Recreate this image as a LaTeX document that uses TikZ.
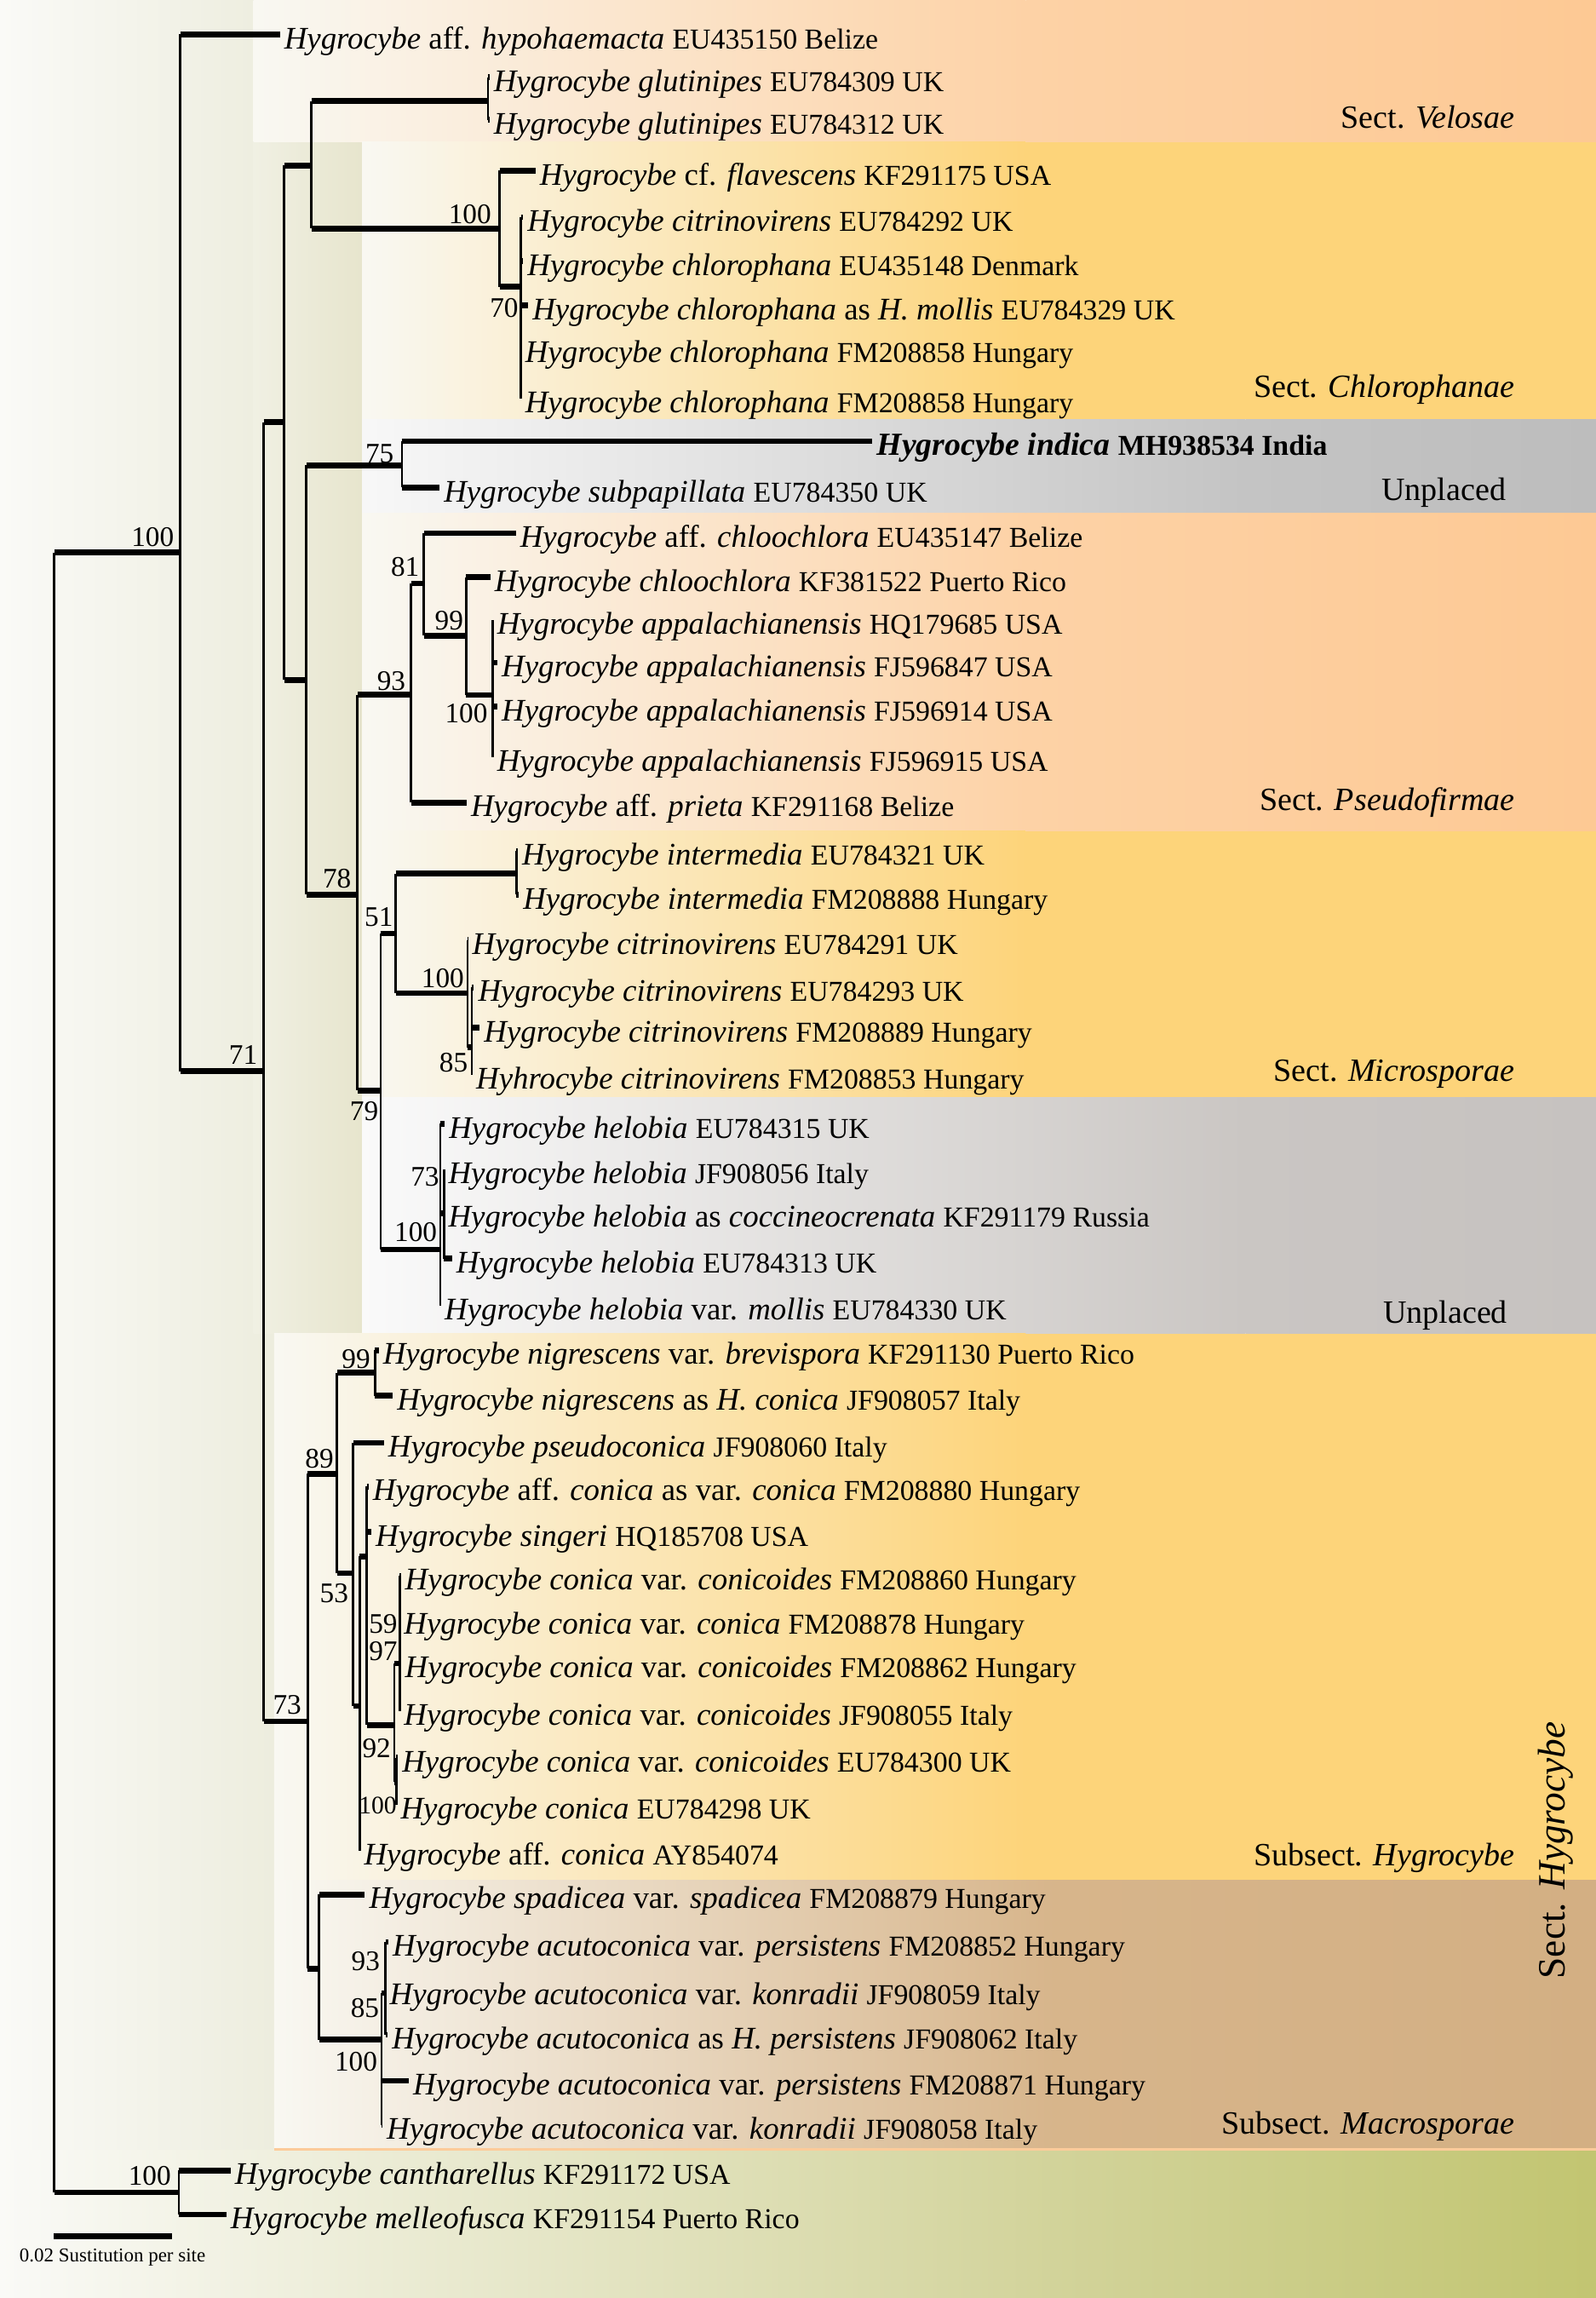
\documentclass[tikz,border=0pt]{standalone}
\usepackage{fontspec}
\setmainfont{Liberation Serif}
\usepackage{tikz}
\usetikzlibrary{calc}
\definecolor{paleL}{HTML}{FAFAF7}
\definecolor{paleR}{HTML}{EDEDDE}
\definecolor{colL}{HTML}{F0F0E3}
\definecolor{colR}{HTML}{E7E5CD}
\definecolor{bandW}{HTML}{F9F8F2}
\definecolor{veloMid}{HTML}{FDD2A6}
\definecolor{veloCol}{HTML}{FDC994}
\definecolor{chloCol}{HTML}{FDD47A}
\definecolor{grayA}{HTML}{C4C4C4}
\definecolor{grayAR}{HTML}{BDBDBD}
\definecolor{grayB}{HTML}{CAC6C3}
\definecolor{grayBR}{HTML}{C6C2C0}
\definecolor{macMid}{HTML}{D7B58B}
\definecolor{macCol}{HTML}{D3AF83}
\definecolor{ogMid}{HTML}{D2D39A}
\definecolor{ogCol}{HTML}{C2C571}
\definecolor{peachLine}{HTML}{FCCB9A}
\newcommand{\acc}[1]{{\fontsize{11.2}{13}\selectfont #1}}

\begin{document}
\begin{tikzpicture}[x=0.02cm, y=-0.02cm,
    hbr/.style={line width=2.2pt},
    vbr/.style={line width=0.9pt},
    taxon/.style={anchor=base west, inner sep=0pt, xshift=1.5pt, yshift=-5.5pt,
      font=\fontsize{12.2}{14}\selectfont},
    boot/.style={anchor=east, inner sep=0pt, font=\fontsize{11}{13}\selectfont},
    sect/.style={anchor=base east, inner sep=0pt, font=\fontsize{12.6}{15}\selectfont}
  ]
    \useasboundingbox (0,0) rectangle (1089,1568);
    % Background bands
    \shade[left color=paleL, right color=paleR] (0,0) rectangle (187,1467);
    \shade[left color=colL, right color=colR] (173,97) rectangle (247,910);
    \shade[left color=bandW, right color=veloMid] (173,0) rectangle (700,97);
    \shade[left color=veloMid, right color=veloCol] (700,0) rectangle (1089,97);
    \shade[left color=bandW, right color=chloCol] (247,97) rectangle (700,286);
    \fill[chloCol] (700,97) rectangle (1089,286);
    \shade[left color=white!94!gray, right color=grayA] (247,286) rectangle (850,350);
    \shade[left color=grayA, right color=grayAR] (850,286) rectangle (1089,350);
    \shade[left color=bandW, right color=veloMid] (247,350) rectangle (700,567);
    \shade[left color=veloMid, right color=veloCol] (700,350) rectangle (1089,567);
    \shade[left color=bandW, right color=chloCol] (247,567) rectangle (700,749);
    \fill[chloCol] (700,567) rectangle (1089,749);
    \shade[left color=white!96!gray, right color=grayB] (247,749) rectangle (850,910);
    \shade[left color=grayB, right color=grayBR] (850,749) rectangle (1089,910);
    \shade[left color=bandW, right color=chloCol] (187,910) rectangle (700,1283);
    \fill[chloCol] (700,910) rectangle (1089,1283);
    \shade[left color=bandW, right color=macMid] (187,1283) rectangle (720,1467);
    \shade[left color=macMid, right color=macCol] (720,1283) rectangle (1089,1467);
    \shade[left color=paleL, right color=ogMid] (0,1467) rectangle (720,1568);
    \shade[left color=ogMid, right color=ogCol] (720,1467) rectangle (1089,1568);
    \draw[peachLine, line width=0.8pt] (187,1466.5) -- (1089,1466.5);

    % Internal nodes
    \coordinate (root) at (37,937);
    \coordinate (cA) at (123,377);
    \coordinate (cB) at (180,731);
    \coordinate (cC) at (194,288);
    \coordinate (cE) at (212.6,113);
    \coordinate (cG) at (333,69);
    \coordinate (cH) at (341,156);
    \coordinate (cH2) at (355.5,195.6);
    \coordinate (cF) at (209,464);
    \coordinate (cI) at (274.3,317.5);
    \coordinate (cJ) at (244,610.5);
    \coordinate (cK) at (280.6,474);
    \coordinate (cV) at (289.3,398);
    \coordinate (cW) at (318,433.7);
    \coordinate (cX) at (336.3,474.3);
    \coordinate (cL) at (259.7,744);
    \coordinate (cM) at (270,637);
    \coordinate (cIM) at (352.3,596);
    \coordinate (cQ) at (319,677.7);
    \coordinate (cQ2) at (322,714.6);
    \coordinate (cN) at (300.5,852.5);
    \coordinate (cN2) at (303,828);
    \coordinate (cD) at (210,1174.6);
    \coordinate (cO) at (230,1005.7);
    \coordinate (cNG) at (256,936.6);
    \coordinate (cR) at (241,1073.5);
    \coordinate (cS) at (245.5,1164);
    \coordinate (cS2) at (250.4,1062);
    \coordinate (cT) at (269,1177);
    \coordinate (cT1) at (272.7,1135);
    \coordinate (cT2) at (270.5,1216);
    \coordinate (cP) at (217.7,1343.3);
    \coordinate (cU) at (260.3,1391.7);
    \coordinate (cU1) at (263,1360);
    \coordinate (cOG) at (122,1496);

    % Tips
    \coordinate (L1) at (191,23.5);
    \coordinate (L2) at (334,52.6);
    \coordinate (L3) at (334,81.7);
    \coordinate (L4) at (365.4,116.5);
    \coordinate (L5) at (357,148.1);
    \coordinate (L6) at (357,178.2);
    \coordinate (L7) at (360.4,208.3);
    \coordinate (L8) at (355.5,237.4);
    \coordinate (L9) at (355.5,271.7);
    \coordinate (L10) at (595.4,301);
    \coordinate (L11) at (300,332.7);
    \coordinate (L12) at (352,363.8);
    \coordinate (L13) at (334.6,393.9);
    \coordinate (L14) at (336.3,423);
    \coordinate (L15) at (339.4,452.1);
    \coordinate (L16) at (339.4,482.2);
    \coordinate (L17) at (336.3,516.5);
    \coordinate (L18) at (318.4,547.6);
    \coordinate (L19) at (353.4,580.6);
    \coordinate (L20) at (354,610.5);
    \coordinate (L21) at (319.4,641.5);
    \coordinate (L22) at (323.4,673.7);
    \coordinate (L23) at (327.4,701.3);
    \coordinate (L24) at (322,733.5);
    \coordinate (L25) at (303.5,766.8);
    \coordinate (L26) at (303,797.9);
    \coordinate (L27) at (303,827.7);
    \coordinate (L28) at (308.4,858.8);
    \coordinate (L29) at (300.5,891);
    \coordinate (L30) at (258.4,921.3);
    \coordinate (L31) at (268,952.3);
    \coordinate (L32) at (262,984.5);
    \coordinate (L33) at (251.5,1014.3);
    \coordinate (L34) at (253.4,1045.4);
    \coordinate (L35) at (273.5,1075.3);
    \coordinate (L36) at (272.7,1105.2);
    \coordinate (L37) at (273.5,1135.1);
    \coordinate (L38) at (272.7,1167.3);
    \coordinate (L39) at (271.5,1199.4);
    \coordinate (L40) at (270.5,1231.6);
    \coordinate (L41) at (245.5,1262.6);
    \coordinate (L42) at (249,1292.7);
    \coordinate (L43) at (265,1325);
    \coordinate (L44) at (263,1358.3);
    \coordinate (L45) at (264.5,1388.5);
    \coordinate (L46) at (279,1419.7);
    \coordinate (L47) at (261,1449.8);
    \coordinate (L48) at (157.4,1481);
    \coordinate (L49) at (154.4,1511.1);

    % Vertical branches
    \draw[vbr] (root |- cA) -- (root |- cOG);
    \draw[vbr] (cA |- L1) -- (cA |- cB);
    \draw[vbr] (cB |- cC) -- (cB |- cD);
    \draw[vbr] (cC |- cE) -- (cC |- cF);
    \draw[vbr] (cE |- cG) -- (cE |- cH);
    \draw[vbr] (cG |- L2) -- (cG |- L3);
    \draw[vbr] (cH |- L4) -- (cH |- cH2);
    \draw[vbr] (cH2 |- L5) -- (cH2 |- L9);
    \draw[vbr] (cF |- cI) -- (cF |- cJ);
    \draw[vbr] (cI |- L10) -- (cI |- L11);
    \draw[vbr] (cJ |- cK) -- (cJ |- cL);
    \draw[vbr] (cK |- cV) -- (cK |- L18);
    \draw[vbr] (cV |- L12) -- (cV |- cW);
    \draw[vbr] (cW |- L13) -- (cW |- cX);
    \draw[vbr] (cX |- L14) -- (cX |- L17);
    \draw[vbr] (cL |- cM) -- (cL |- cN);
    \draw[vbr] (cM |- cIM) -- (cM |- cQ);
    \draw[vbr] (cIM |- L19) -- (cIM |- L20);
    \draw[vbr] (cQ |- L21) -- (cQ |- cQ2);
    \draw[vbr] (cQ2 |- L22) -- (cQ2 |- L24);
    \draw[vbr] (cN |- L25) -- (cN |- L29);
    \draw[vbr] (cN2 |- L26) -- (cN2 |- L28);
    \draw[vbr] (cD |- cO) -- (cD |- cP);
    \draw[vbr] (cO |- cNG) -- (cO |- cR);
    \draw[vbr] (cNG |- L30) -- (cNG |- L31);
    \draw[vbr] (cR |- L32) -- (cR |- cS);
    \draw[vbr] (cS |- cS2) -- (cS |- L41);
    \draw[vbr] (cS2 |- L33) -- (cS2 |- cT);
    \draw[vbr] (cT |- cT1) -- (cT |- cT2);
    \draw[vbr] (cT1 |- L35) -- (cT1 |- L38);
    \draw[vbr] (cT2 |- L39) -- (cT2 |- L40);
    \draw[vbr] (cP |- L42) -- (cP |- cU);
    \draw[vbr] (cU |- cU1) -- (cU |- L47);
    \draw[vbr] (cU1 |- L43) -- (cU1 |- L45);
    \draw[vbr] (cOG |- L48) -- (cOG |- L49);

    % Horizontal branches
    \draw[hbr] (root |- cA) -- (cA);
    \draw[hbr] (root |- cOG) -- (cOG);
    \draw[hbr] (cA |- L1) -- (L1);
    \draw[hbr] (cA |- cB) -- (cB);
    \draw[hbr] (cB |- cC) -- (cC);
    \draw[hbr] (cB |- cD) -- (cD);
    \draw[hbr] (cC |- cE) -- (cE);
    \draw[hbr] (cC |- cF) -- (cF);
    \draw[hbr] (cE |- cG) -- (cG);
    \draw[hbr] (cE |- cH) -- (cH);
    \draw[hbr] (cG |- L2) -- (L2);
    \draw[hbr] (cG |- L3) -- (L3);
    \draw[hbr] (cH |- L4) -- (L4);
    \draw[hbr] (cH |- cH2) -- (cH2);
    \draw[hbr] (cH2 |- L5) -- (L5);
    \draw[hbr] (cH2 |- L6) -- (L6);
    \draw[hbr] (cH2 |- L7) -- (L7);
    \draw[hbr] (cF |- cI) -- (cI);
    \draw[hbr] (cF |- cJ) -- (cJ);
    \draw[hbr] (cI |- L10) -- (L10);
    \draw[hbr] (cI |- L11) -- (L11);
    \draw[hbr] (cJ |- cK) -- (cK);
    \draw[hbr] (cJ |- cL) -- (cL);
    \draw[hbr] (cK |- cV) -- (cV);
    \draw[hbr] (cK |- L18) -- (L18);
    \draw[hbr] (cV |- L12) -- (L12);
    \draw[hbr] (cV |- cW) -- (cW);
    \draw[hbr] (cW |- L13) -- (L13);
    \draw[hbr] (cW |- cX) -- (cX);
    \draw[hbr] (cX |- L15) -- (L15);
    \draw[hbr] (cX |- L16) -- (L16);
    \draw[hbr] (cL |- cM) -- (cM);
    \draw[hbr] (cL |- cN) -- (cN);
    \draw[hbr] (cM |- cIM) -- (cIM);
    \draw[hbr] (cM |- cQ) -- (cQ);
    \draw[hbr] (cIM |- L19) -- (L19);
    \draw[hbr] (cIM |- L20) -- (L20);
    \draw[hbr] (cQ |- L21) -- (L21);
    \draw[hbr] (cQ |- cQ2) -- (cQ2);
    \draw[hbr] (cQ2 |- L22) -- (L22);
    \draw[hbr] (cQ2 |- L23) -- (L23);
    \draw[hbr] (cN |- L25) -- (L25);
    \draw[hbr] (cN |- cN2) -- (cN2);
    \draw[hbr] (cN2 |- L28) -- (L28);
    \draw[hbr] (cD |- cO) -- (cO);
    \draw[hbr] (cD |- cP) -- (cP);
    \draw[hbr] (cO |- cNG) -- (cNG);
    \draw[hbr] (cO |- cR) -- (cR);
    \draw[hbr] (cNG |- L30) -- (L30);
    \draw[hbr] (cNG |- L31) -- (L31);
    \draw[hbr] (cR |- L32) -- (L32);
    \draw[hbr] (cR |- cS) -- (cS);
    \draw[hbr] (cS |- cS2) -- (cS2);
    \draw[hbr] (cS2 |- L33) -- (L33);
    \draw[hbr] (cS2 |- L34) -- (L34);
    \draw[hbr] (cS2 |- cT) -- (cT);
    \draw[hbr] (cT |- cT1) -- (cT1);
    \draw[hbr] (cT |- cT2) -- (cT2);
    \draw[hbr] (cT1 |- L35) -- (L35);
    \draw[hbr] (cT1 |- L37) -- (L37);
    \draw[hbr] (cT2 |- L39) -- (L39);
    \draw[hbr] (cP |- L42) -- (L42);
    \draw[hbr] (cP |- cU) -- (cU);
    \draw[hbr] (cU |- cU1) -- (cU1);
    \draw[hbr] (cU |- L46) -- (L46);
    \draw[hbr] (cU |- L47) -- (L47);
    \draw[hbr] (cU1 |- L43) -- (L43);
    \draw[hbr] (cU1 |- L45) -- (L45);
    \draw[hbr] (cOG |- L48) -- (L48);
    \draw[hbr] (cOG |- L49) -- (L49);

    % Taxa
    \node[taxon] (t1) at (L1) {\textit{Hygrocybe} aff. \textit{hypohaemacta} \acc{EU435150 Belize}};
    \node[taxon] (t2) at (L2) {\textit{Hygrocybe glutinipes} \acc{EU784309 UK}};
    \node[taxon] (t3) at (L3) {\textit{Hygrocybe glutinipes} \acc{EU784312 UK}};
    \node[taxon] (t4) at (L4) {\textit{Hygrocybe} cf. \textit{flavescens} \acc{KF291175 USA}};
    \node[taxon] (t5) at (L5) {\textit{Hygrocybe citrinovirens} \acc{EU784292 UK}};
    \node[taxon] (t6) at (L6) {\textit{Hygrocybe chlorophana} \acc{EU435148 Denmark}};
    \node[taxon] (t7) at (L7) {\textit{Hygrocybe chlorophana} as \textit{H. mollis} \acc{EU784329 UK}};
    \node[taxon] (t8) at (L8) {\textit{Hygrocybe chlorophana} \acc{FM208858 Hungary}};
    \node[taxon] (t9) at (L9) {\textit{Hygrocybe chlorophana} \acc{FM208858 Hungary}};
    \node[taxon, font=\fontsize{12.5}{14}\selectfont] (t10) at (L10) {\textbf{\textit{Hygrocybe indica}} \acc{\textbf{MH938534 India}}};
    \node[taxon] (t11) at (L11) {\textit{Hygrocybe subpapillata} \acc{EU784350 UK}};
    \node[taxon] (t12) at (L12) {\textit{Hygrocybe} aff. \textit{chloochlora} \acc{EU435147 Belize}};
    \node[taxon] (t13) at (L13) {\textit{Hygrocybe chloochlora} \acc{KF381522 Puerto Rico}};
    \node[taxon] (t14) at (L14) {\textit{Hygrocybe appalachianensis} \acc{HQ179685 USA}};
    \node[taxon] (t15) at (L15) {\textit{Hygrocybe appalachianensis} \acc{FJ596847 USA}};
    \node[taxon] (t16) at (L16) {\textit{Hygrocybe appalachianensis} \acc{FJ596914 USA}};
    \node[taxon] (t17) at (L17) {\textit{Hygrocybe appalachianensis} \acc{FJ596915 USA}};
    \node[taxon] (t18) at (L18) {\textit{Hygrocybe} aff. \textit{prieta} \acc{KF291168 Belize}};
    \node[taxon] (t19) at (L19) {\textit{Hygrocybe intermedia} \acc{EU784321 UK}};
    \node[taxon] (t20) at (L20) {\textit{Hygrocybe intermedia} \acc{FM208888 Hungary}};
    \node[taxon] (t21) at (L21) {\textit{Hygrocybe citrinovirens} \acc{EU784291 UK}};
    \node[taxon] (t22) at (L22) {\textit{Hygrocybe citrinovirens} \acc{EU784293 UK}};
    \node[taxon] (t23) at (L23) {\textit{Hygrocybe citrinovirens} \acc{FM208889 Hungary}};
    \node[taxon] (t24) at (L24) {\textit{Hyhrocybe citrinovirens} \acc{FM208853 Hungary}};
    \node[taxon] (t25) at (L25) {\textit{Hygrocybe helobia} \acc{EU784315 UK}};
    \node[taxon] (t26) at (L26) {\textit{Hygrocybe helobia} \acc{JF908056 Italy}};
    \node[taxon] (t27) at (L27) {\textit{Hygrocybe helobia} as \textit{coccineocrenata} \acc{KF291179 Russia}};
    \node[taxon] (t28) at (L28) {\textit{Hygrocybe helobia} \acc{EU784313 UK}};
    \node[taxon] (t29) at (L29) {\textit{Hygrocybe helobia} var. \textit{mollis} \acc{EU784330 UK}};
    \node[taxon] (t30) at (L30) {\textit{Hygrocybe nigrescens} var. \textit{brevispora} \acc{KF291130 Puerto Rico}};
    \node[taxon] (t31) at (L31) {\textit{Hygrocybe nigrescens} as \textit{H. conica} \acc{JF908057 Italy}};
    \node[taxon] (t32) at (L32) {\textit{Hygrocybe pseudoconica} \acc{JF908060 Italy}};
    \node[taxon] (t33) at (L33) {\textit{Hygrocybe} aff. \textit{conica} as var. \textit{conica} \acc{FM208880 Hungary}};
    \node[taxon] (t34) at (L34) {\textit{Hygrocybe singeri} \acc{HQ185708 USA}};
    \node[taxon] (t35) at (L35) {\textit{Hygrocybe conica} var. \textit{conicoides} \acc{FM208860 Hungary}};
    \node[taxon] (t36) at (L36) {\textit{Hygrocybe conica} var. \textit{conica} \acc{FM208878 Hungary}};
    \node[taxon] (t37) at (L37) {\textit{Hygrocybe conica} var. \textit{conicoides} \acc{FM208862 Hungary}};
    \node[taxon] (t38) at (L38) {\textit{Hygrocybe conica} var. \textit{conicoides} \acc{JF908055 Italy}};
    \node[taxon] (t39) at (L39) {\textit{Hygrocybe conica} var. \textit{conicoides} \acc{EU784300 UK}};
    \node[taxon] (t40) at (L40) {\textit{Hygrocybe conica} \acc{EU784298 UK}};
    \node[taxon] (t41) at (L41) {\textit{Hygrocybe} aff. \textit{conica} \acc{AY854074}};
    \node[taxon] (t42) at (L42) {\textit{Hygrocybe spadicea} var. \textit{spadicea} \acc{FM208879 Hungary}};
    \node[taxon] (t43) at (L43) {\textit{Hygrocybe acutoconica} var. \textit{persistens} \acc{FM208852 Hungary}};
    \node[taxon] (t44) at (L44) {\textit{Hygrocybe acutoconica} var. \textit{konradii} \acc{JF908059 Italy}};
    \node[taxon] (t45) at (L45) {\textit{Hygrocybe acutoconica} as \textit{H. persistens} \acc{JF908062 Italy}};
    \node[taxon] (t46) at (L46) {\textit{Hygrocybe acutoconica} var. \textit{persistens} \acc{FM208871 Hungary}};
    \node[taxon] (t47) at (L47) {\textit{Hygrocybe acutoconica} var. \textit{konradii} \acc{JF908058 Italy}};
    \node[taxon] (t48) at (L48) {\textit{Hygrocybe cantharellus} \acc{KF291172 USA}};
    \node[taxon] (t49) at (L49) {\textit{Hygrocybe melleofusca} \acc{KF291154 Puerto Rico}};

    % Support values
    \node[boot] (b1) at (119,366.7) {100};
    \node[boot] (b2) at (176,720) {71};
    \node[boot] (b3) at (335.5,146) {100};
    \node[boot] (b4) at (354,210) {70};
    \node[boot] (b5) at (269,309.8) {75};
    \node[boot] (b6) at (286.5,387) {81};
    \node[boot] (b7) at (316.5,423.4) {99};
    \node[boot] (b8) at (277,465) {93};
    \node[boot] (b9) at (333,486.7) {100};
    \node[boot] (b10) at (240,599.4) {78};
    \node[boot] (b11) at (268.5,626) {51};
    \node[boot] (b12) at (317,667.3) {100};
    \node[boot] (b13) at (319.5,724.8) {85};
    \node[boot] (b14) at (258.5,758) {79};
    \node[boot] (b15) at (300,803) {73};
    \node[boot] (b16) at (298.5,840.5) {100};
    \node[boot] (b17) at (206,1163) {73};
    \node[boot] (b18) at (228,995.4) {89};
    \node[boot] (b19) at (253,927.6) {99};
    \node[boot] (b20) at (238,1087.3) {53};
    \node[boot] (b21) at (271.5,1108) {59};
    \node[boot] (b22) at (271.5,1126.4) {97};
    \node[boot] (b23) at (267,1193) {92};
    \node[boot, font=\fontsize{9.8}{11}\selectfont] (b24) at (271,1232) {100};
    \node[boot] (b25) at (259.5,1338) {93};
    \node[boot] (b26) at (259,1370.2) {85};
    \node[boot] (b27) at (257.8,1406.8) {100};
    \node[boot] (b28) at (117,1484.5) {100};

    % Sections
    \node[sect] (sVel) at (1034,87.2) {Sect. \textit{Velosae}};
    \node[sect] (sChl) at (1034,271) {Sect. \textit{Chlorophanae}};
    \node[sect] (sUn1) at (1028,341.4) {Unplaced};
    \node[sect] (sPse) at (1034,553) {Sect. \textit{Pseudofirmae}};
    \node[sect] (sMic) at (1034,738) {Sect. \textit{Microsporae}};
    \node[sect] (sUn2) at (1029,903) {Unplaced};
    \node[sect] (sHyg) at (1034,1273) {Subsect. \textit{Hygrocybe}};
    \node[sect] (sMac) at (1034,1456) {Subsect. \textit{Macrosporae}};
    \node[rotate=90, anchor=base, inner sep=0pt, font=\fontsize{15}{17}\selectfont] (sSec) at (1068,1262.5)
      {Sect. \textit{Hygrocybe}};

    % Scale bar
    \coordinate (sbL) at (36.5,1526);
    \coordinate (sbR) at (117.5,1526);
    \draw[hbr] (sbL) -- (sbR);
    \node[anchor=west, inner sep=0pt, font=\fontsize{7.6}{9}\selectfont] (sbT) at (13,1540) {0.02 Sustitution per site};
  \end{tikzpicture}
\end{document}
